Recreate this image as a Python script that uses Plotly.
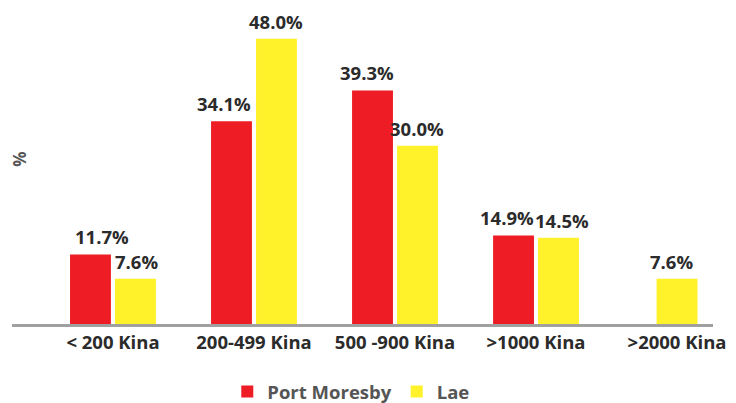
import plotly.graph_objects as go

categories = ["< 200 Kina", "200-499 Kina", "500 -900 Kina", ">1000 Kina", ">2000 Kina"]
port_moresby = [11.7, 34.1, 39.3, 14.9, None]
lae = [7.6, 48.0, 30.0, 14.5, 7.6]
series_names = ["Port Moresby", "Lae"]

RED = "#EE1D25"
YEL = "#FFF22A"
TXT = "#2B2B2B"
GREY = "#555555"
FONT = "Open Sans"
FS = 18.5

# bar geometry (style): width and offsets in category units
bw = 0.29
gap = 0.0145
pm_offset = -(bw + gap)
lae_offsets = [gap, gap, gap, gap, -bw / 2]
PX_PER_CAT = 141.0
# label nudges (style, px) to mirror the reference's hand-placed labels
pm_nudge = [12, -8, -6, -7, 0]
lae_nudge = [1, 0, 0, 3, -6]

fig = go.Figure()
fig.add_trace(go.Bar(
    x=categories, y=port_moresby, name=series_names[0],
    marker=dict(color=RED, line=dict(width=0)),
    width=bw, offset=pm_offset,
))
fig.add_trace(go.Bar(
    x=categories, y=lae, name=series_names[1],
    marker=dict(color=YEL, line=dict(width=0)),
    width=bw, offset=lae_offsets,
))

annotations = []
for vals, offs, nudges in ((port_moresby, [pm_offset] * 5, pm_nudge),
                           (lae, lae_offsets, lae_nudge)):
    for cat, v, off, nd in zip(categories, vals, offs, nudges):
        if v is None:
            continue
        annotations.append(dict(
            x=cat, y=v, xref="x", yref="y", text=f"{v:.1f}%",
            showarrow=False, xanchor="center", yanchor="bottom",
            xshift=(off + bw / 2) * PX_PER_CAT + nd, yshift=4, borderpad=0,
            font=dict(family=FONT, size=FS, color=TXT, weight=700),
        ))

annotations.append(dict(
    text="%", x=0.011, y=0.534, xref="paper", yref="paper",
    xanchor="center", yanchor="middle",
    showarrow=False, textangle=-90,
    font=dict(family=FONT, size=17, color=GREY, weight=700),
))

# the page body adds an 8px margin, so the figure is 8px smaller each way
fig.update_layout(
    width=728, height=395,
    margin=dict(l=4, r=23, t=7, b=79, autoexpand=False),
    paper_bgcolor="white", plot_bgcolor="white",
    barmode="group",
    font=dict(family=FONT, color=TXT),
    xaxis=dict(
        type="category", range=[-0.716, 4.255],
        showline=True, linecolor="#A0A0A0", linewidth=3,
        showgrid=False, zeroline=False, ticks="",
        tickfont=dict(family=FONT, size=FS, color=TXT, weight=700),
        ticklabelstandoff=0,
    ),
    yaxis=dict(
        range=[0, 52], visible=False, showgrid=False, zeroline=False,
    ),
    showlegend=True,
    legend=dict(
        orientation="h", x=0.484, xanchor="center", y=-0.22, yanchor="middle",
        font=dict(family=FONT, size=FS, color=GREY, weight=700),
        itemwidth=30, tracegroupgap=0,
    ),
    annotations=annotations,
)

fig.write_html("out.html")
